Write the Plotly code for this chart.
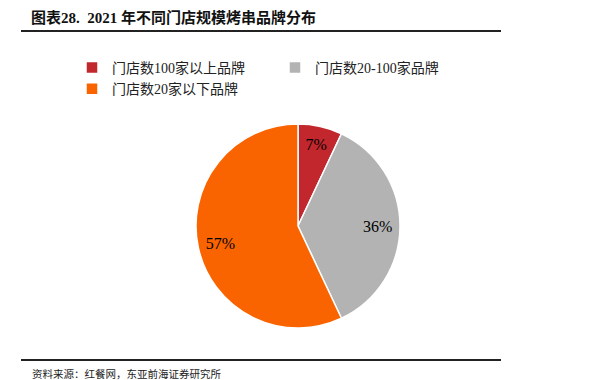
import plotly.graph_objects as go

categories = ["门店数100家以上品牌", "门店数20-100家品牌", "门店数20家以下品牌"]
shares = [7, 36, 57]
colors = ["#C1272D", "#B3B3B3", "#FA6400"]

title_text = "图表28.  2021 年不同门店规模烤串品牌分布"
source_text = "资料来源：红餐网，东亚前海证券研究所"

W, H = 597, 380
cx, cy, r = 298, 226, 102
dom = dict(x=[(cx - r) / W, (cx + r) / W], y=[1 - (cy + r) / H, 1 - (cy - r) / H])

fig = go.Figure()
fig.add_trace(go.Pie(
    labels=categories,
    values=shares,
    sort=False,
    direction="clockwise",
    rotation=0,
    marker=dict(colors=colors, line=dict(color="white", width=1.5)),
    textinfo="none",
    hoverinfo="label+percent",
    domain=dom,
))
# transparent ring used only to place the percentage labels further out
fig.add_trace(go.Pie(
    labels=categories,
    values=shares,
    sort=False,
    direction="clockwise",
    rotation=0,
    hole=0.56,
    marker=dict(colors=["rgba(0,0,0,0)"] * 3, line=dict(width=0)),
    texttemplate="%{value}%",
    textposition="inside",
    insidetextorientation="horizontal",
    textfont=dict(family="Liberation Serif", size=16, color="black"),
    hoverinfo="skip",
    showlegend=False,
    domain=dom,
))

fig.update_layout(
    width=W, height=H,
    margin=dict(l=0, r=0, t=0, b=0),
    paper_bgcolor="white",
    plot_bgcolor="white",
    font=dict(family="Liberation Serif, Noto Sans CJK SC", size=14, color="#222"),
    legend=dict(
        orientation="h",
        x=72 / W, xanchor="left",
        y=1 - 52 / H, yanchor="top",
        entrywidth=158, entrywidthmode="pixels",
        font=dict(family="Liberation Serif, Noto Sans CJK SC", size=14, color="#222"),
        traceorder="normal",
    ),
    shapes=[
        dict(type="line", xref="paper", yref="paper",
             x0=21 / W, x1=501 / W, y0=1 - 31 / H, y1=1 - 31 / H,
             line=dict(color="#222", width=1.8)),
        dict(type="line", xref="paper", yref="paper",
             x0=21 / W, x1=501 / W, y0=1 - 360 / H, y1=1 - 360 / H,
             line=dict(color="#222", width=1.8)),
    ],
    annotations=[
        dict(text="<b>" + title_text + "</b>", xref="paper", yref="paper",
             x=29 / W, y=1 - 17 / H, xanchor="left", yanchor="middle", showarrow=False,
             font=dict(family="Liberation Serif, Noto Sans CJK SC", size=15, color="#111")),
        dict(text=source_text, xref="paper", yref="paper",
             x=30 / W, y=1 - 373 / H, xanchor="left", yanchor="middle", showarrow=False,
             font=dict(family="Noto Sans CJK SC", size=10.5, color="#222")),
    ],
)

fig.write_html(
    "out.html",
    config={"displayModeBar": False},
    post_script="document.body.style.margin='0px';document.body.style.overflow='hidden';",
)
